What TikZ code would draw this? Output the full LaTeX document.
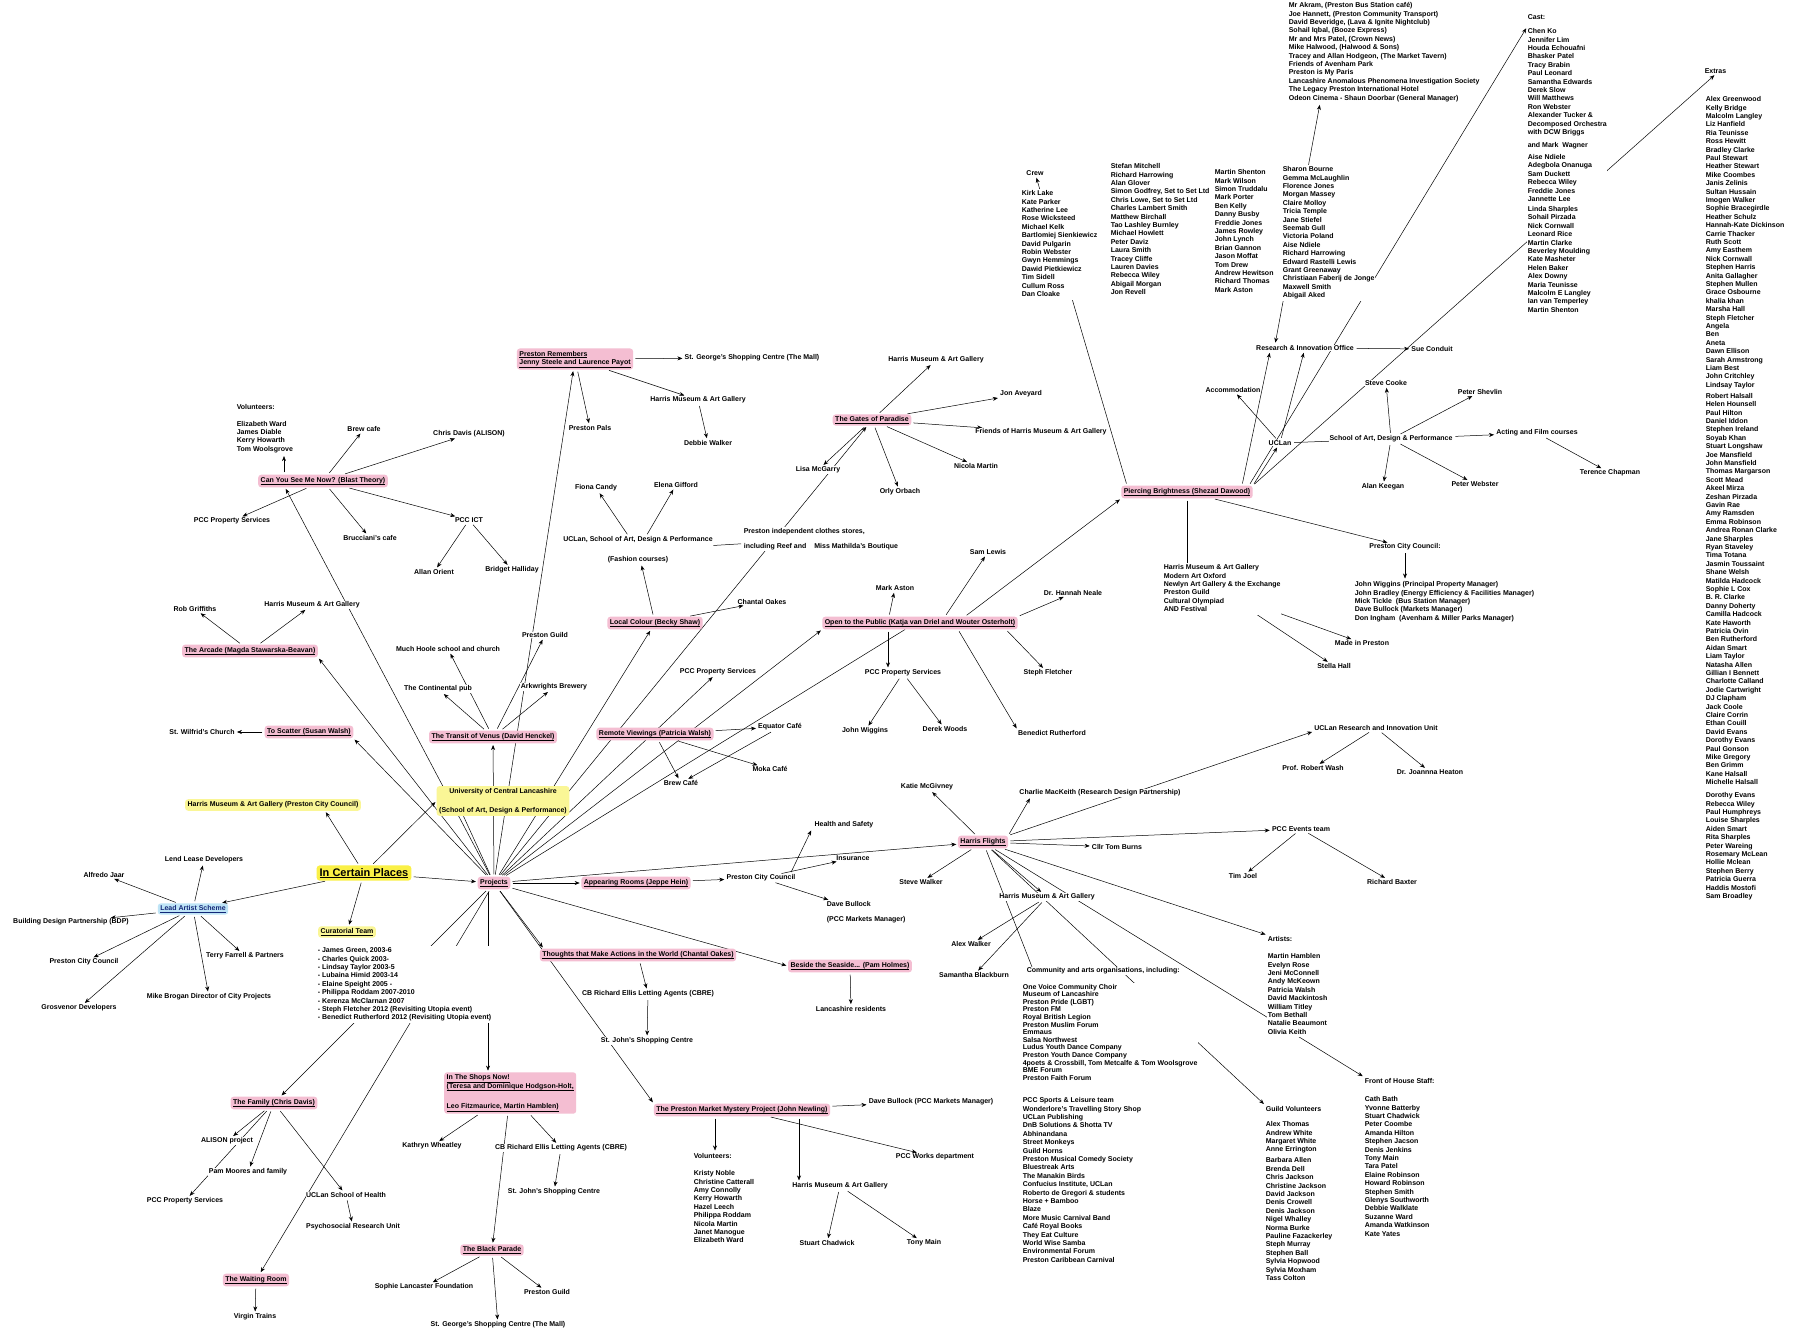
\documentclass[tikz,border=0pt]{standalone}
\usepackage{fontspec}
\setmainfont{Liberation Sans}
\usetikzlibrary{arrows.meta,backgrounds}
\definecolor{hlpink}{RGB}{244,190,210}
\definecolor{hlyellow}{RGB}{250,246,150}
\definecolor{icpyellow}{RGB}{250,240,70}
\definecolor{hlblue}{RGB}{190,228,246}
\definecolor{leadblue}{RGB}{20,40,120}
\newcommand{\ul}[1]{\vtop{\hbox{#1}\kern0.7pt\hrule height 0.4pt}}
\newcommand{\namelist}[1]{\begin{tabular}{@{}l@{}}#1\end{tabular}}

\begin{document}
\begin{tikzpicture}[x=1pt, y=-1pt,
    txt/.style={font=\fontsize{7}{8.4}\selectfont\bfseries, fill=white, inner sep=0.6pt},
    lst/.style={txt, anchor=north west},
    hlp/.style={txt, fill=hlpink, rounded corners=3pt, inner sep=2.5pt},
    hly/.style={hlp, fill=hlyellow},
    hlb/.style={hlp, fill=hlblue, text=leadblue},
    conn/.style={line width=0.5pt, shorten <=2pt},
    arrow/.style={conn, -{Stealth[length=5pt,width=4pt]}, shorten >=1.5pt},
    darrow/.style={conn, {Stealth[length=5pt,width=4pt]}-{Stealth[length=5pt,width=4pt]}, shorten >=1.5pt}
  ]
  \useasboundingbox (0,0) rectangle (1793,1340);

  % In Certain Places
  \node[hly, fill=icpyellow, font=\fontsize{11}{13}\selectfont\bfseries, inner sep=3pt] (icp) at (364,873) {\ul{In Certain Places}};
  \node[hlp] (proj) at (494,883) {\ul{Projects}};
  \node[hly] (harrispcc) at (273,805) {Harris Museum \& Art Gallery (Preston City Council)};
  \node[hly, align=center] (uclan) at (503,801) {University of Central Lancashire\\[10pt](School of Art, Design \& Performance)};
  \node[hly] (curteam) at (347,932) {\ul{Curatorial Team}};
  \node[lst] (curlist) at (317,946) {\namelist{- James Green, 2003-6\\- Charles Quick 2003-\\- Lindsay Taylor 2003-5\\- Lubaina Himid 2003-14\\- Elaine Speight 2005 -\\- Philippa Roddam 2007-2010\\- Kerenza McClarnan 2007\\- Steph Fletcher 2012 (Revisiting Utopia event)\\- Benedict Rutherford 2012 (Revisiting Utopia event)}};

  % Lead Artist Scheme
  \node[hlb] (lead) at (193,909) {\ul{Lead Artist Scheme}};
  \node[txt] (lendlease) at (204,860) {Lend Lease Developers};
  \node[txt] (jaar) at (104,875) {Alfredo Jaar};
  \node[txt] (bdp) at (71,922) {Building Design Partnership (BDP)};
  \node[txt] (pcclead) at (84,962) {Preston City Council};
  \node[txt] (grosv) at (79,1008) {Grosvenor Developers};
  \node[txt] (brogan) at (209,997) {Mike Brogan Director of City Projects};
  \node[txt] (farrell) at (245,956) {Terry Farrell \& Partners};

  % Can You See Me Now?
  \node[lst] (vols) at (236,403) {\namelist{Volunteers:\\[8pt]Elizabeth Ward\\James Diable\\Kerry Howarth\\Tom Woolsgrove}};
  \node[hlp] (canyou) at (323,481) {\ul{Can You See Me Now? (Blast Theory)}};
  \node[txt] (brew) at (364,429) {Brew cafe};
  \node[txt] (chrisd) at (469,434) {Chris Davis (ALISON)};
  \node[txt] (brucc) at (370,538) {Brucciani's cafe};
  \node[txt] (pccict) at (469,520) {PCC ICT};
  \node[txt] (pccpropa) at (232,521) {PCC Property Services};
  \node[txt] (allan) at (434,572) {Allan Orient};
  \node[txt] (bridget) at (512,570) {Bridget Halliday};
  \node[txt] (harrisa) at (312,605) {Harris Museum \& Art Gallery};
  \node[txt] (robg) at (195,609) {Rob Griffiths};
  \node[hlp] (arcade) at (250,651) {\ul{The Arcade (Magda Stawarska-Beavan)}};
  \node[txt] (wilfrid) at (202,732) {St. Wilfrid's Church};
  \node[hlp] (scatter) at (309,732) {\ul{To Scatter (Susan Walsh)}};

  % Transit of Venus
  \node[hlp] (transit) at (493,737) {\ul{The Transit of Venus (David Henckel)}};
  \node[txt] (contpub) at (438,689) {The Continental pub};
  \node[txt] (hoole) at (448,649) {Much Hoole school and church};
  \node[txt] (guildA) at (545,635) {Preston Guild};
  \node[txt] (arkw) at (554,687) {Arkwrights Brewery};

  % Preston Remembers
  \node[hlp, align=left] (remember) at (575,359) {\ul{Preston Remembers}\\\ul{Jenny Steele and Laurence Payot}};
  \node[txt] (stgeoA) at (752,358) {St. George's Shopping Centre (The Mall)};
  \node[txt] (harrisB) at (698,400) {Harris Museum \& Art Gallery};
  \node[txt] (debbie) at (708,443) {Debbie Walker};
  \node[txt] (pals) at (590,428) {Preston Pals};

  % Local Colour
  \node[txt] (fiona) at (596,488) {Fiona Candy};
  \node[txt] (elena) at (676,485) {Elena Gifford};
  \node[txt, align=center] (fashion) at (638,550) {UCLan, School of Art, Design \& Performance\\[11.6pt](Fashion courses)};
  \node[txt, align=left, anchor=west] (clothes) at (743,539) {Preston independent clothes stores,\\[7pt]including Reef and\hspace{6pt} Miss Mathilda's Boutique};
  \node[txt] (lisa) at (818,470) {Lisa McGarry};
  \node[hlp] (localc) at (655,623) {\ul{Local Colour (Becky Shaw)}};
  \node[txt] (chantal) at (762,602) {Chantal Oakes};

  % Remote Viewings
  \node[txt] (pccpropb) at (718,672) {PCC Property Services};
  \node[hlp] (remote) at (655,734) {\ul{Remote Viewings (Patricia Walsh)}};
  \node[txt] (equator) at (780,727) {Equator Café};
  \node[txt] (brewb) at (681,783) {Brew Café};
  \node[txt] (moka) at (770,769) {Moka Café};

  % Gates of Paradise
  \node[hlp] (gates) at (872,420) {\ul{The Gates of Paradise}};
  \node[txt] (harrisC) at (936,360) {Harris Museum \& Art Gallery};
  \node[txt] (aveyard) at (1021,394) {Jon Aveyard};
  \node[txt] (friends) at (1041,432) {Friends of Harris Museum \& Art Gallery};
  \node[txt] (nicola) at (976,466) {Nicola Martin};
  \node[txt] (orly) at (900,492) {Orly Orbach};

  % Open to the Public
  \node[hlp] (open) at (920,623) {\ul{Open to the Public (Katja van Driel and Wouter Osterholt)}};
  \node[txt] (markaston) at (895,588) {Mark Aston};
  \node[txt] (samlewis) at (988,552) {Sam Lewis};
  \node[txt] (neale) at (1073,593) {Dr. Hannah Neale};
  \node[txt] (stephf) at (1048,673) {Steph Fletcher};
  \node[txt] (benedict) at (1052,733) {Benedict Rutherford};
  \node[txt] (pccpropc) at (903,673) {PCC Property Services};
  \node[txt] (wiggins) at (865,731) {John Wiggins};
  \node[txt] (derek) at (945,729) {Derek Woods};

  % Piercing Brightness
  \node[hlp] (piercing) at (1187,492) {\ul{Piercing Brightness (Shezad Dawood)}};
  \node[lst] (harrislist) at (1163,563) {\namelist{Harris Museum \& Art Gallery\\Modern Art Oxford\\Newlyn Art Gallery \& the Exchange\\Preston Guild\\Cultural Olympiad\\AND Festival}};
  \coordinate (guildend) at (1226,594);
  \node[txt] (madein) at (1362,643) {Made in Preston};
  \node[txt] (stella) at (1334,666) {Stella Hall};
  \node[txt] (pccright) at (1405,547) {Preston City Council:};
  \node[lst] (pcclist) at (1354,580) {\namelist{John Wiggins (Principal Property Manager)\\John Bradley (Energy Efficiency \& Facilities Manager)\\Mick Tickle\ \ (Bus Station Manager)\\Dave Bullock (Markets Manager)\\Don Ingham\ \ (Avenham \& Miller Parks Manager)}};
  \node[txt] (uclanb) at (1280,443) {UCLan};
  \node[txt] (accom) at (1233,390) {Accommodation};
  \node[txt] (research) at (1305,348) {Research \& Innovation Office};
  \node[txt] (sue) at (1432,349) {Sue Conduit};
  \node[txt] (stevec) at (1386,383) {Steve Cooke};
  \node[txt] (school) at (1391,439) {School of Art, Design \& Performance};
  \node[txt] (shevlin) at (1480,392) {Peter Shevlin};
  \node[txt] (acting) at (1537,433) {Acting and Film courses};
  \node[txt] (terence) at (1610,473) {Terence Chapman};
  \node[txt] (keegan) at (1383,487) {Alan Keegan};
  \node[txt] (webster) at (1475,484) {Peter Webster};

  % crew and cast lists
  \node[txt] (crew) at (1035,173) {Crew};
  \node[lst] (crewlist) at (1021,189) {\namelist{Kirk Lake\\Kate Parker\\Katherine Lee\\Rose Wicksteed\\Michael Kelk\\Bartlomiej Sienkiewicz\\David Pulgarin\\Robin Webster\\Gwyn Hemmings\\Dawid Pietkiewicz\\Tim Sidell\\Cullum Ross\\Dan Cloake}};
  \node[lst, fill=none] (castb) at (1110,162) {\namelist{Stefan Mitchell\\Richard Harrowing\\Alan Glover\\Simon Godfrey, Set to Set Ltd\\Chris Lowe, Set to Set Ltd\\Charles Lambert Smith\\Matthew Birchall\\Tao Lashley Burnley\\Michael Howlett\\Peter Daviz\\Laura Smith\\Tracey Cliffe\\Lauren Davies\\Rebecca Wiley\\Abigail Morgan\\Jon Revell}};
  \node[lst, fill=none] (castc) at (1214,168) {\namelist{Martin Shenton\\Mark Wilson\\Simon Truddalu\\Mark Porter\\Ben Kelly\\Danny Busby\\Freddie Jones\\James Rowley\\John Lynch\\Brian Gannon\\Jason Moffat\\Tom Drew\\Andrew Hewitson\\Richard Thomas\\Mark Aston}};
  \node[lst] (castd) at (1282,165) {\namelist{Sharon Bourne\\Gemma McLaughlin\\Florence Jones\\Morgan Massey\\Claire Molloy\\Tricia Temple\\Jane Stiefel\\Seemab Gull\\Victoria Poland\\Aise Ndiele\\Richard Harrowing\\Edward Rastelli Lewis\\Grant Greenaway\\Christiaan Faberij de Jonge\\Maxwell Smith\\Abigail Aked}};
  \node[lst] (partners) at (1288,1) {\namelist{Mr Akram, (Preston Bus Station café)\\Joe Hannett, (Preston Community Transport)\\David Beveridge, (Lava \& Ignite Nightclub)\\Sohail Iqbal, (Booze Express)\\Mr and Mrs Patel, (Crown News)\\Mike Halwood, (Halwood \& Sons)\\Tracey and Allan Hodgeon, (The Market Tavern)\\Friends of Avenham Park\\Preston is My Paris\\Lancashire Anomalous Phenomena Investigation Society\\The Legacy Preston International Hotel\\Odeon Cinema - Shaun Doorbar (General Manager)}};
  \node[txt, anchor=west] (cast) at (1527,17) {Cast:};
  \node[lst] (castlist) at (1527,27) {\namelist{Chen Ko\\Jennifer Lim\\Houda Echouafni\\Bhasker Patel\\Tracy Brabin\\Paul Leonard\\Samantha Edwards\\Derek Slow\\Will Matthews\\Ron Webster\\Alexander Tucker \&\\Decomposed Orchestra\\with DCW Briggs\\[4.6pt]and Mark\ \ Wagner\\[3.6pt]Aise Ndiele\\Adegbola Onanuga\\Sam Duckett\\Rebecca Wiley\\Freddie Jones\\Jannette Lee\\[1.6pt]Linda Sharples\\Sohail Pirzada\\Nick Cornwall\\Leonard Rice\\Martin Clarke\\Beverley Moulding\\Kate Masheter\\Helen Baker\\Alex Downy\\Maria Teunisse\\Malcolm E Langley\\Ian van Temperley\\Martin Shenton}};
  \node[txt, anchor=west] (extras) at (1704,71) {Extras};
  \node[lst] (extralist) at (1705,95) {\namelist{Alex Greenwood\\Kelly Bridge\\Malcolm Langley\\Liz Hanfield\\Ria Teunisse\\Ross Hewitt\\Bradley Clarke\\Paul Stewart\\Heather Stewart\\Mike Coombes\\Janis Zelinis\\Sultan Hussain\\Imogen Walker\\Sophie Bracegirdle\\Heather Schulz\\Hannah-Kate Dickinson\\Carrie Thacker\\Ruth Scott\\Amy Easthem\\Nick Cornwall\\Stephen Harris\\Anita Gallagher\\Stephen Mullen\\Grace Osbourne\\khalia khan\\Marsha Hall\\Steph Fletcher\\Angela\\Ben\\Aneta\\Dawn Ellison\\Sarah Armstrong\\Liam Best\\John Critchley\\Lindsay Taylor\\[2.6pt]Robert Halsall\\Helen Hounsell\\Paul Hilton\\Daniel Iddon\\Stephen Ireland\\Soyab Khan\\Stuart Longshaw\\Joe Mansfield\\John Mansfield\\Thomas Margarson\\Scott Mead\\Akeel Mirza\\Zeshan Pirzada\\Gavin Rae\\Amy Ramsden\\Emma Robinson\\Andrea Ronan Clarke\\Jane Sharples\\Ryan Staveley\\Tima Totana\\Jasmin Toussaint\\Shane Welsh\\Matilda Hadcock\\Sophie L Cox\\B. R. Clarke\\Danny Doherty\\Camilla Hadcock\\Kate Haworth\\Patricia Ovin\\Ben Rutherford\\Aidan Smart\\Liam Taylor\\Natasha Allen\\Gillian I Bennett\\Charlotte Calland\\Jodie Cartwright\\DJ Clapham\\Jack Coole\\Claire Corrin\\Ethan Couill\\David Evans\\Dorothy Evans\\Paul Gonson\\Mike Gregory\\Ben Grimm\\Kane Halsall\\Michelle Halsall\\[4.6pt]Dorothy Evans\\Rebecca Wiley\\Paul Humphreys\\Louise Sharples\\Aiden Smart\\Rita Sharples\\Peter Wareing\\Rosemary McLean\\Hollie Mclean\\Stephen Berry\\Patricia Guerra\\Haddis Mostofi\\Sam Broadley}};

  % Harris Flights
  \node[hlp] (hflights) at (983,842) {\ul{Harris Flights}};
  \node[txt] (katie) at (927,787) {Katie McGivney};
  \node[txt] (charlie) at (1100,793) {Charlie MacKeith (Research Design Partnership)};
  \node[txt] (uclanunit) at (1376,728) {UCLan Research and Innovation Unit};
  \node[txt] (wash) at (1313,768) {Prof. Robert Wash};
  \node[txt] (heaton) at (1430,772) {Dr. Joannna Heaton};
  \node[txt] (events) at (1301,829) {PCC Events team};
  \node[txt] (timjoel) at (1243,876) {Tim Joel};
  \node[txt] (baxter) at (1392,882) {Richard Baxter};
  \node[txt] (burns) at (1117,847) {Cllr Tom Burns};
  \node[txt] (stevew) at (921,882) {Steve Walker};
  \node[txt] (harrisD) at (1047,897) {Harris Museum \& Art Gallery};
  \node[txt] (alexw) at (971,944) {Alex Walker};
  \node[txt] (samb) at (974,975) {Samantha Blackburn};
  \node[txt, anchor=west] (community) at (1026,971) {Community and arts organisations, including:};
  \node[lst, font=\fontsize{7}{7.6}\selectfont\bfseries] (commlista) at (1022,983) {\namelist{One Voice Community Choir\\Museum of Lancashire\\Preston Pride (LGBT)\\Preston FM\\Royal British Legion\\Preston Muslim Forum\\Emmaus\\Salsa Northwest\\Ludus Youth Dance Company\\Preston Youth Dance Company\\4poets \& Crossbill, Tom Metcalfe \& Tom Woolsgrove\\BME Forum\\Preston Faith Forum}};
  \node[lst] (commlistb) at (1022,1096) {\namelist{PCC Sports \& Leisure team\\Wonderlore's Travelling Story Shop\\UCLan Publishing\\DnB Solutions \& Shotta TV\\Abhinandana\\Street Monkeys\\Guild Horns\\Preston Musical Comedy Society\\Bluestreak Arts\\The Manakin Birds\\Confucius Institute, UCLan\\Roberto de Gregori \& students\\Horse + Bamboo\\Blaze\\More Music Carnival Band\\Café Royal Books\\They Eat Culture\\World Wise Samba\\Environmental Forum\\Preston Caribbean Carnival}};
  \node[lst] (artists) at (1267,935) {\namelist{Artists:\\[8.6pt]Martin Hamblen\\Evelyn Rose\\Jeni McConnell\\Andy McKeown\\Patricia Walsh\\David Mackintosh\\William Titley\\Tom Bethall\\Natalie Beaumont\\Olivia Keith}};
  \node[lst] (guildvol) at (1265,1105) {\namelist{Guild Volunteers\\[6.6pt]Alex Thomas\\Andrew White\\Margaret White\\Anne Errington\\[2.6pt]Barbara Allen\\Brenda Dell\\Chris Jackson\\Christine Jackson\\David Jackson\\Denis Crowell\\Denis Jackson\\Nigel Whalley\\Norma Burke\\Pauline Fazackerley\\Steph Murray\\Stephen Ball\\Sylvia Hopwood\\Sylvia Moxham\\Tass Colton}};
  \node[lst] (frontstaff) at (1364,1077) {\namelist{Front of House Staff:\\[9.6pt]Cath Bath\\Yvonne Batterby\\Stuart Chadwick\\Peter Coombe\\Amanda Hilton\\Stephen Jacson\\Denis Jenkins\\Tony Main\\Tara Patel\\Elaine Robinson\\Howard Robinson\\Stephen Smith\\Glenys Southworth\\Debbie Walklate\\Suzanne Ward\\Amanda Watkinson\\Kate Yates}};

  % Appearing Rooms, Seaside, Thoughts
  \node[hlp] (appearing) at (636,883) {\ul{Appearing Rooms (Jeppe Hein)}};
  \node[txt] (pccmid) at (761,878) {Preston City Council};
  \node[txt] (health) at (844,825) {Health and Safety};
  \node[txt] (insurance) at (853,858) {Insurance};
  \node[txt, align=left, anchor=west] (bullockA) at (826,912) {Dave Bullock\\[7pt](PCC Markets Manager)};
  \node[hlp] (seaside) at (850,966) {\ul{Beside the Seaside... (Pam Holmes)}};
  \node[txt] (lancs) at (851,1009) {Lancashire residents};
  \node[hlp] (thoughts) at (638,955) {\ul{Thoughts that Make Actions in the World (Chantal Oakes)}};
  \node[txt] (cbreA) at (648,994) {CB Richard Ellis Letting Agents (CBRE)};
  \node[txt] (stjohnA) at (647,1041) {St. John's Shopping Centre};

  % Preston Market Mystery
  \node[hlp] (market) at (742,1110) {\ul{The Preston Market Mystery Project (John Newling)}};
  \node[txt] (bullockB) at (931,1102) {Dave Bullock (PCC Markets Manager)};
  \node[txt] (works) at (935,1157) {PCC Works department};
  \node[txt] (harrisE) at (840,1186) {Harris Museum \& Art Gallery};
  \node[txt] (chadwick) at (827,1243) {Stuart Chadwick};
  \node[txt] (tonymain) at (924,1243) {Tony Main};
  \node[lst] (marketvols) at (693,1152) {\namelist{Volunteers:\\[8.6pt]Kristy Noble\\Christine Catterall\\Amy Connolly\\Kerry Howarth\\Hazel Leech\\Philippa Roddam\\Nicola Martin\\Janet Manogue\\Elizabeth Ward}};

  % In The Shops Now!
  \node[hlp, align=left, anchor=west] (shops) at (444,1093) {\ul{In The Shops Now!}\\\ul{(Teresa and Dominique Hodgson-Holt,}\\[12pt]\ul{Leo Fitzmaurice, Martin Hamblen)}};
  \node[txt] (wheatley) at (432,1146) {Kathryn Wheatley};
  \node[txt] (cbreB) at (561,1148) {CB Richard Ellis Letting Agents (CBRE)};
  \node[txt] (stjohnB) at (554,1192) {St. John's Shopping Centre};
  \node[hlp] (blackp) at (492,1250) {\ul{The Black Parade}};
  \node[txt] (sophie) at (424,1287) {Sophie Lancaster Foundation};
  \node[txt] (guildB) at (547,1292) {Preston Guild};
  \node[txt] (stgeoB) at (498,1325) {St. George's Shopping Centre (The Mall)};

  % The Family, The Waiting Room
  \node[hlp] (family) at (274,1103) {\ul{The Family (Chris Davis)}};
  \node[txt] (alison) at (227,1141) {ALISON project};
  \node[txt] (pam) at (248,1172) {Pam Moores and family};
  \node[txt] (pccpropd) at (185,1201) {PCC Property Services};
  \node[txt] (schhealth) at (346,1195) {UCLan School of Health};
  \node[txt] (psycho) at (353,1227) {Psychosocial Research Unit};
  \node[hlp] (waiting) at (256,1280) {\ul{The Waiting Room}};
  \node[txt] (virgin) at (255,1317) {Virgin Trains};

  \begin{scope}[on background layer]
    \fill[white] (0,0) rectangle (1793,1340);
    % Can You See Me Now?
    \draw[arrow] ([xshift=-39pt]canyou.north) -- ([xshift=-39pt]canyou.north |- vols.south);
    \draw[arrow] (canyou) -- (brew);
    \draw[arrow] (canyou) -- (chrisd);
    \draw[arrow] (canyou) -- (brucc);
    \draw[arrow] (canyou) -- (pccict);
    \draw[arrow] (canyou) -- (pccpropa);
    \draw[arrow] (pccict) -- (allan);
    \draw[arrow] (pccict) -- (bridget);
    \draw[arrow] (arcade) -- (robg);
    \draw[arrow] (arcade) -- (harrisa);
    \draw[arrow] (scatter) -- (wilfrid);
    % In Certain Places
    \draw[arrow] (icp) -- (proj);
    \draw[arrow] (icp) -- (lead);
    \draw[arrow] (icp) -- ([xshift=52pt]harrispcc.south);
    \draw[arrow] (icp) -- (uclan.west);
    \draw[arrow] (icp) -- (curteam);
    \draw[arrow] (lead) -- (lendlease);
    \draw[arrow] (lead) -- (jaar);
    \draw[arrow] (lead) -- (bdp);
    \draw[arrow] (lead) -- (pcclead);
    \draw[arrow] (lead) -- (grosv);
    \draw[arrow] (lead) -- (brogan);
    \draw[arrow] (lead) -- (farrell);
    % Projects
    \draw[arrow] (proj) -- (arcade.south east);
    \draw[arrow] (proj) -- (scatter.south east);
    \draw[arrow] (proj) -- ([xshift=-38pt]canyou.south);
    \draw[conn] (proj) -- ([xshift=27pt]uclan.south west);
    \draw[arrow] (proj) -- (transit);
    \draw[arrow] (proj) -- (remember);
    \draw[arrow] (proj) -- (localc);
    \draw[arrow] (proj) -- (pccpropb);
    \draw[arrow] (proj) -- (open.south west);
    \draw[conn] (proj) -- ([xshift=-15pt]open.south);
    \draw[arrow] (proj) -- (gates);
    \draw[arrow] (proj) -- (hflights);
    \draw[arrow] (proj) -- (appearing);
    \draw[arrow] (proj) -- (seaside.west);
    \draw[arrow] (proj) -- ([xshift=4pt]thoughts.north west);
    \draw[arrow] (proj) -- (market.north west);
    \draw[arrow] ([xshift=-6pt]proj.south) -- ([xshift=-6pt]proj.south |- shops.north);
    \draw[arrow] (proj) -- (family);
    \draw[arrow] (proj) -- (waiting);
    % Transit of Venus
    \draw[arrow] (transit) -- (contpub);
    \draw[arrow] (transit) -- (hoole);
    \draw[arrow] (transit) -- (guildA);
    \draw[arrow] (transit) -- (arkw);
    % Preston Remembers
    \draw[arrow] (remember) -- (stgeoA);
    \draw[arrow] (remember) -- (harrisB);
    \draw[arrow] (remember) -- (pals);
    \draw[arrow] (harrisB) -- (debbie);
    % Local Colour
    \draw[arrow] (localc) -- (fashion);
    \draw[arrow] (localc) -- (chantal);
    \draw[arrow] (fashion) -- (fiona);
    \draw[arrow] (fashion) -- (elena);
    \draw[conn] (clothes) -- (fashion);
    % Remote Viewings
    \draw[arrow] (remote) -- (equator);
    \draw[arrow] (remote) -- (brewb);
    \draw[arrow] (remote) -- (moka);
    \draw[arrow] (equator) -- (brewb);
    % Gates of Paradise
    \draw[arrow] (gates) -- (lisa);
    \draw[arrow] (gates) -- (harrisC);
    \draw[arrow] (gates) -- (aveyard);
    \draw[arrow] (gates) -- (friends);
    \draw[arrow] (gates) -- (nicola);
    \draw[arrow] (gates) -- (orly);
    % Open to the Public
    \draw[arrow] ([xshift=-31pt]open.north) -- (markaston);
    \draw[arrow] ([xshift=25pt]open.north) -- (samlewis);
    \draw[arrow] (open.north east) -- (neale);
    \draw[arrow] ([xshift=-12pt]open.south east) -- (stephf);
    \draw[arrow] ([xshift=38pt]open.south) -- (benedict.north west);
    \draw[arrow] ([xshift=-32pt]open.south) -- ([xshift=-32pt]open.south |- pccpropc.north);
    \draw[arrow] ([xshift=45pt]open.north) -- (piercing.south west);
    \draw[arrow] (pccpropc) -- (wiggins);
    \draw[arrow] (pccpropc) -- (derek);
    % Piercing Brightness
    \draw[arrow] ([xshift=-60pt]piercing.north) -- (crew);
    \draw[arrow] ([xshift=55pt]piercing.north) -- ([xshift=-35pt]research.south);
    \draw[arrow] ([xshift=62pt]piercing.north) -- (castlist.north west);
    \draw[arrow] (piercing.north east) -- (uclanb);
    \draw[arrow] (piercing.north east) -- (extras.south);
    \draw[arrow] (piercing) -- (pccright);
    \draw[conn] (piercing.south) -- (piercing.south |- harrislist.north);
    \draw[arrow] (guildend) -- (madein);
    \draw[arrow] (guildend) -- (stella);
    \draw[arrow] (pccright) -- (pccright |- pcclist.north);
    \draw[arrow] (uclanb) -- (accom);
    \draw[arrow] (uclanb) -- (research);
    \draw[conn] (uclanb) -- (school);
    \draw[darrow] ([xshift=-30pt]research.north) -- ([xshift=32pt]partners.south west);
    \draw[arrow] (research) -- (sue);
    \draw[arrow] (school) -- (stevec);
    \draw[arrow] (school) -- (shevlin);
    \draw[arrow] (school) -- (acting);
    \draw[arrow] (school) -- (keegan);
    \draw[arrow] (school) -- (webster);
    \draw[arrow] (acting) -- (terence);
    % Harris Flights
    \draw[arrow] (hflights) -- (katie);
    \draw[arrow] (hflights.north east) -- ([xshift=12pt]charlie.south west);
    \draw[arrow] (hflights.north east) -- (uclanunit.south west);
    \draw[arrow] (hflights) -- (events);
    \draw[arrow] (hflights) -- (burns);
    \draw[arrow] (hflights) -- (stevew);
    \draw[arrow] (hflights) -- (harrisD);
    \draw[conn] (hflights) -- ([xshift=6pt]community.north west);
    \draw[arrow] (hflights) -- (guildvol.north west);
    \draw[arrow] (hflights) -- (artists.north west);
    \draw[arrow] (hflights) -- (frontstaff.north west);
    \draw[arrow] (uclanunit) -- (wash);
    \draw[arrow] (uclanunit) -- (heaton);
    \draw[arrow] (events) -- (timjoel);
    \draw[arrow] (events) -- (baxter);
    \draw[arrow] (harrisD) -- (alexw);
    \draw[arrow] (harrisD) -- (samb);
    % Appearing Rooms, Seaside, Thoughts
    \draw[arrow] (appearing) -- (pccmid);
    \draw[arrow] ([xshift=-6pt]pccmid.north east) -- ([xshift=-2pt]health.south west);
    \draw[arrow] (pccmid) -- (insurance);
    \draw[arrow] (pccmid) -- (bullockA);
    \draw[arrow] (seaside) -- (lancs);
    \draw[arrow] (thoughts) -- (cbreA);
    \draw[arrow] (cbreA) -- (stjohnA);
    % Preston Market Mystery
    \draw[arrow] (market) -- (bullockB);
    \draw[arrow] (market) -- (works);
    \draw[arrow] ([xshift=57pt]market.south) -- ([xshift=57pt]market.south |- harrisE.north);
    \draw[arrow] ([xshift=-27pt]market.south) -- ([xshift=-27pt]market.south |- marketvols.north);
    \draw[arrow] (harrisE) -- (chadwick);
    \draw[arrow] (harrisE) -- (tonymain);
    % In The Shops Now!
    \draw[arrow] (shops) -- (wheatley);
    \draw[arrow] (shops) -- (cbreB);
    \draw[arrow] (shops) -- (blackp);
    \draw[arrow] (cbreB) -- (stjohnB);
    \draw[arrow] (blackp) -- (sophie);
    \draw[arrow] (blackp) -- (guildB);
    \draw[arrow] (blackp) -- (stgeoB);
    % The Family, The Waiting Room
    \draw[arrow] (family) -- (alison);
    \draw[arrow] (family) -- (pam);
    \draw[arrow] (family) -- (pccpropd);
    \draw[arrow] (family) -- (schhealth);
    \draw[arrow] (schhealth) -- (psycho);
    \draw[arrow] (waiting) -- (virgin);
  \end{scope}
\end{tikzpicture}
\end{document}
